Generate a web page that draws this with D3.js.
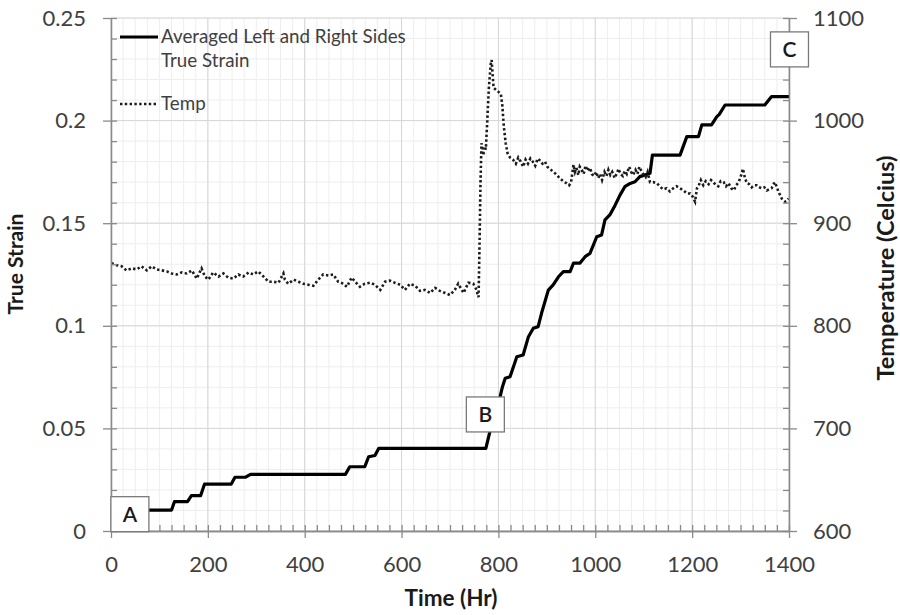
<!DOCTYPE html>
<html>
<head>
<meta charset="utf-8">
<script src="https://cdn.jsdelivr.net/npm/d3@7/dist/d3.min.js"></script>
<style>
  body { margin: 0; background: #fff; }
  svg { display: block; font-family: Lato, "Open Sans", sans-serif; }
</style>
</head>
<body>
<svg id="chart" width="900" height="615"></svg>
<script>
// Averaged left/right true strain: [time (hr), strain]
const strainPoints = [
  [0, 0.0102], [125, 0.0102], [131, 0.0143], [158, 0.0143], [166, 0.0172], [185, 0.0172],
  [193, 0.0228], [248, 0.0228], [256, 0.0262], [278, 0.0262], [288, 0.0276], [484, 0.0276],
  [493, 0.0313], [524, 0.0313], [532, 0.0362], [545, 0.0368], [553, 0.0403], [774, 0.0403],
  [786, 0.052], [800, 0.062], [808, 0.070], [814, 0.0744], [824, 0.0752], [838, 0.0849],
  [851, 0.0858], [862, 0.0947], [872, 0.0988], [882, 0.0996], [889, 0.1061], [903, 0.1174],
  [913, 0.1199], [924, 0.1239], [934, 0.1264], [948, 0.1264], [955, 0.1305], [968, 0.1305],
  [979, 0.1337], [989, 0.1353], [1003, 0.1434], [1013, 0.1443], [1020, 0.1516], [1030, 0.154],
  [1041, 0.1588], [1051, 0.1637], [1061, 0.1678], [1072, 0.1694], [1082, 0.1702], [1092, 0.1727],
  [1113, 0.1743], [1118, 0.1832], [1175, 0.1832], [1189, 0.1922], [1213, 0.1922], [1220, 0.1979],
  [1240, 0.1979], [1251, 0.2019], [1256, 0.2030], [1268, 0.2076], [1350, 0.2076], [1364, 0.2117],
  [1400, 0.2117]
];

// Furnace temperature: [time (hr), °C]
const tempPoints = [
  [1, 861], [12, 859], [22, 858], [32, 854], [43, 856], [53, 855], [63, 858], [74, 854],
  [84, 858], [94, 855], [105, 854], [115, 853], [125, 851], [136, 850], [146, 852], [156, 851],
  [167, 854], [177, 846], [187, 856], [194, 848], [201, 845], [211, 852], [222, 848], [232, 851],
  [242, 847], [253, 846], [263, 850], [273, 848], [284, 852], [294, 850], [304, 853], [315, 848],
  [325, 843], [335, 843], [346, 842], [356, 851], [359, 845], [366, 841], [377, 845], [387, 843],
  [397, 841], [407, 840], [418, 839], [428, 845], [438, 850], [449, 849], [459, 850], [469, 843],
  [480, 841], [487, 838], [497, 847], [504, 843], [514, 838], [524, 841], [535, 842], [545, 840],
  [556, 835], [566, 843], [576, 844], [586, 842], [597, 840], [607, 835], [617, 841], [628, 839],
  [638, 834], [648, 835], [659, 832], [669, 837], [679, 834], [690, 832], [700, 830], [710, 835],
  [717, 841], [728, 832], [738, 842], [748, 841], [755, 835], [757, 830], [759, 828], [761, 880],
  [763, 940], [765, 978], [767, 972], [769, 966], [771, 975], [774, 972], [777, 1000], [780, 1030],
  [784, 1055], [786, 1059], [788, 1045], [790, 1032], [795, 1030], [800, 1028], [805, 1026],
  [808, 1015], [811, 995], [815, 978], [819, 968], [824, 964], [830, 962], [836, 958], [841, 964],
  [846, 960], [851, 955], [856, 962], [861, 958], [866, 963], [871, 960], [876, 956], [881, 963],
  [886, 961], [891, 958], [896, 960], [901, 955], [906, 953], [911, 951], [916, 949], [921, 947],
  [926, 944], [931, 942], [936, 940], [941, 939], [946, 937], [950, 940], [953, 950], [955, 957],
  [958, 950], [961, 954], [965, 947], [968, 955], [972, 952], [976, 948], [980, 956], [984, 951],
  [989, 954], [993, 948], [997, 946], [1002, 950], [1006, 944], [1010, 948], [1014, 942],
  [1019, 950], [1023, 946], [1027, 952], [1031, 947], [1035, 950], [1040, 944], [1044, 948],
  [1048, 953], [1052, 948], [1057, 946], [1061, 951], [1065, 948], [1070, 955], [1074, 950],
  [1078, 947], [1083, 952], [1087, 948], [1091, 955], [1096, 950], [1100, 947], [1104, 945],
  [1108, 950], [1113, 940], [1120, 940], [1127, 939], [1133, 936], [1140, 933], [1147, 934],
  [1154, 931], [1161, 934], [1168, 936], [1175, 934], [1182, 932], [1189, 929], [1196, 929],
  [1201, 926], [1206, 921], [1210, 934], [1213, 936], [1218, 942], [1223, 937], [1228, 941],
  [1234, 938], [1239, 942], [1244, 940], [1249, 937], [1254, 936], [1259, 941], [1265, 940],
  [1270, 936], [1275, 939], [1281, 934], [1286, 932], [1291, 937], [1296, 940], [1300, 945],
  [1305, 953], [1309, 944], [1313, 939], [1318, 938], [1323, 935], [1328, 937], [1333, 937],
  [1338, 935], [1344, 934], [1349, 935], [1354, 932], [1359, 933], [1364, 934], [1368, 938],
  [1371, 940], [1375, 935], [1378, 931], [1382, 927], [1385, 924], [1389, 922], [1392, 921],
  [1396, 922], [1399, 924]
];

const timeTicks = [0, 200, 400, 600, 800, 1000, 1200, 1400];
const strainTicks = [0, 0.05, 0.1, 0.15, 0.2, 0.25];
const strainTickLabels = ["0", "0.05", "0.1", "0.15", "0.2", "0.25"];
const tempTicks = [600, 700, 800, 900, 1000, 1100];
const tempTickLabels = ["600", "700", "800", "900", "1000", "1100"];

const timeMinorStep = 25;
const strainMinorStep = 0.01;
const tempMinorStep = 20;

// Lettered stage markers: [label, time, strain]
const stageLabels = [["A", 39, 0.0082], ["B", 773, 0.0568], ["C", 1401, 0.2347]];

const legendNames = [["Averaged Left and Right Sides", "True Strain"], ["Temp"]];

const svg = d3.select("#chart");

const x = d3.scaleLinear().domain([0, 1400]).range([111, 789]);
const yS = d3.scaleLinear().domain([0, 0.25]).range([531, 18]);
const yT = d3.scaleLinear().domain([600, 1100]).range([531, 18]);

const timeMinor = d3.range(0, 1400 + 1e-6, timeMinorStep);
const strainMinor = d3.range(0, 0.25 + 1e-9, strainMinorStep).map(v => +v.toFixed(3));
const tempMinor = d3.range(600, 1100 + 1e-6, tempMinorStep);

// Grid: minor first, then major
const grid = svg.append("g");
grid.selectAll(".vmin").data(timeMinor).join("line")
  .attr("x1", d => x(d)).attr("x2", d => x(d)).attr("y1", yS(0)).attr("y2", yS(0.25))
  .attr("stroke", "#eeeeee").attr("stroke-width", 1);
grid.selectAll(".hmin").data(strainMinor).join("line")
  .attr("x1", x(0)).attr("x2", x(1400)).attr("y1", d => yS(d)).attr("y2", d => yS(d))
  .attr("stroke", "#eeeeee").attr("stroke-width", 1);
grid.selectAll(".vmaj").data(timeTicks).join("line")
  .attr("x1", d => x(d)).attr("x2", d => x(d)).attr("y1", yS(0)).attr("y2", yS(0.25))
  .attr("stroke", "#d6d6d6").attr("stroke-width", 1);
grid.selectAll(".hmaj").data(strainTicks).join("line")
  .attr("x1", x(0)).attr("x2", x(1400)).attr("y1", d => yS(d)).attr("y2", d => yS(d))
  .attr("stroke", "#d6d6d6").attr("stroke-width", 1);

// Series
const strainLine = d3.line().x(d => x(d[0])).y(d => yS(d[1]));
const tempLine = d3.line().x(d => x(d[0])).y(d => yT(d[1]));

svg.append("path").datum(strainPoints).attr("d", strainLine)
  .attr("fill", "none").attr("stroke", "#000").attr("stroke-width", 3.2)
  .attr("stroke-linejoin", "round");
svg.append("path").datum(tempPoints).attr("d", tempLine)
  .attr("fill", "none").attr("stroke", "#1c1c1c").attr("stroke-width", 2.6)
  .attr("stroke-dasharray", "2.4,2.4");

// Axes
const axisColor = "#8a8a8a";
const labelColor = "#404040";
function styleAxis(g) {
  g.select(".domain").attr("stroke", axisColor).attr("stroke-width", 1.3);
  g.selectAll(".tick line").attr("stroke", axisColor).attr("stroke-width", 1.3);
  g.selectAll(".tick text").attr("fill", labelColor).style("font-size", "22px")
    .style("font-family", "Lato, 'Open Sans', sans-serif");
}

// left axis
svg.append("g").attr("transform", `translate(${x(0)},0)`)
  .call(d3.axisLeft(yS).tickValues(strainTicks).tickSizeInner(8).tickSizeOuter(0)
    .tickPadding(17).tickFormat((d, i) => strainTickLabels[i]))
  .call(styleAxis);
svg.append("g").attr("transform", `translate(${x(0)},0)`)
  .call(d3.axisLeft(yS).tickValues(strainMinor).tickSizeInner(-6).tickSizeOuter(0).tickFormat(""))
  .call(styleAxis);

// right axis
svg.append("g").attr("transform", `translate(${x(1400)},0)`)
  .call(d3.axisRight(yT).tickValues(tempTicks).tickSizeInner(8).tickSizeOuter(0)
    .tickPadding(16).tickFormat((d, i) => tempTickLabels[i]))
  .call(styleAxis);
svg.append("g").attr("transform", `translate(${x(1400)},0)`)
  .call(d3.axisRight(yT).tickValues(tempMinor).tickSizeInner(-6).tickSizeOuter(0).tickFormat(""))
  .call(styleAxis);

// bottom axis
svg.append("g").attr("transform", `translate(0,${yS(0)})`)
  .call(d3.axisBottom(x).tickValues(timeTicks).tickSizeInner(7).tickSizeOuter(0)
    .tickPadding(18).tickFormat(d => String(d)))
  .call(styleAxis);
svg.append("g").attr("transform", `translate(0,${yS(0)})`)
  .call(d3.axisBottom(x).tickValues(timeMinor).tickSizeInner(-6).tickSizeOuter(0).tickFormat(""))
  .call(styleAxis);

// Axis titles
const titleStyle = sel => sel.style("font-size", "22.5px").style("font-weight", "bold").attr("fill", "#1a1a1a")
  .attr("text-anchor", "middle");
svg.append("text").attr("x", 451).attr("y", 606).call(titleStyle).text("Time (Hr)");
svg.append("text").attr("transform", "translate(23,264) rotate(-90)").call(titleStyle)
  .style("font-size", "21px").text("True Strain");
svg.append("text").attr("transform", "translate(894,268) rotate(-90)").call(titleStyle)
  .style("font-size", "23.5px").text("Temperature (Celcius)");

// Stage markers
const boxW = 38, boxH = 35;
const marks = svg.append("g").selectAll("g").data(stageLabels).join("g")
  .attr("transform", d => `translate(${x(d[1])},${yS(d[2])})`);
marks.append("rect").attr("x", -boxW / 2).attr("y", -boxH / 2).attr("width", boxW).attr("height", boxH)
  .attr("fill", "#fff").attr("stroke", "#7a7a7a").attr("stroke-width", 1.3);
marks.append("text").attr("text-anchor", "middle").attr("dy", "0.36em")
  .style("font-size", "21px").style("font-weight", "600").attr("fill", "#1a1a1a").text(d => d[0]);

// Legend
const lg = svg.append("g");
lg.append("line").attr("x1", 120).attr("x2", 158).attr("y1", 37).attr("y2", 37)
  .attr("stroke", "#000").attr("stroke-width", 3.2);
lg.append("line").attr("x1", 120).attr("x2", 158).attr("y1", 104).attr("y2", 104)
  .attr("stroke", "#1c1c1c").attr("stroke-width", 2.6).attr("stroke-dasharray", "2.4,2.4");
const legText = lg.append("text").style("font-size", "18.8px").attr("fill", "#404040");
legText.append("tspan").attr("x", 161).attr("y", 43).text(legendNames[0][0]);
legText.append("tspan").attr("x", 161).attr("y", 67).text(legendNames[0][1]);
lg.append("text").attr("x", 161).attr("y", 110).style("font-size", "18.8px").attr("fill", "#404040")
  .text(legendNames[1][0]);
</script>
</body>
</html>
